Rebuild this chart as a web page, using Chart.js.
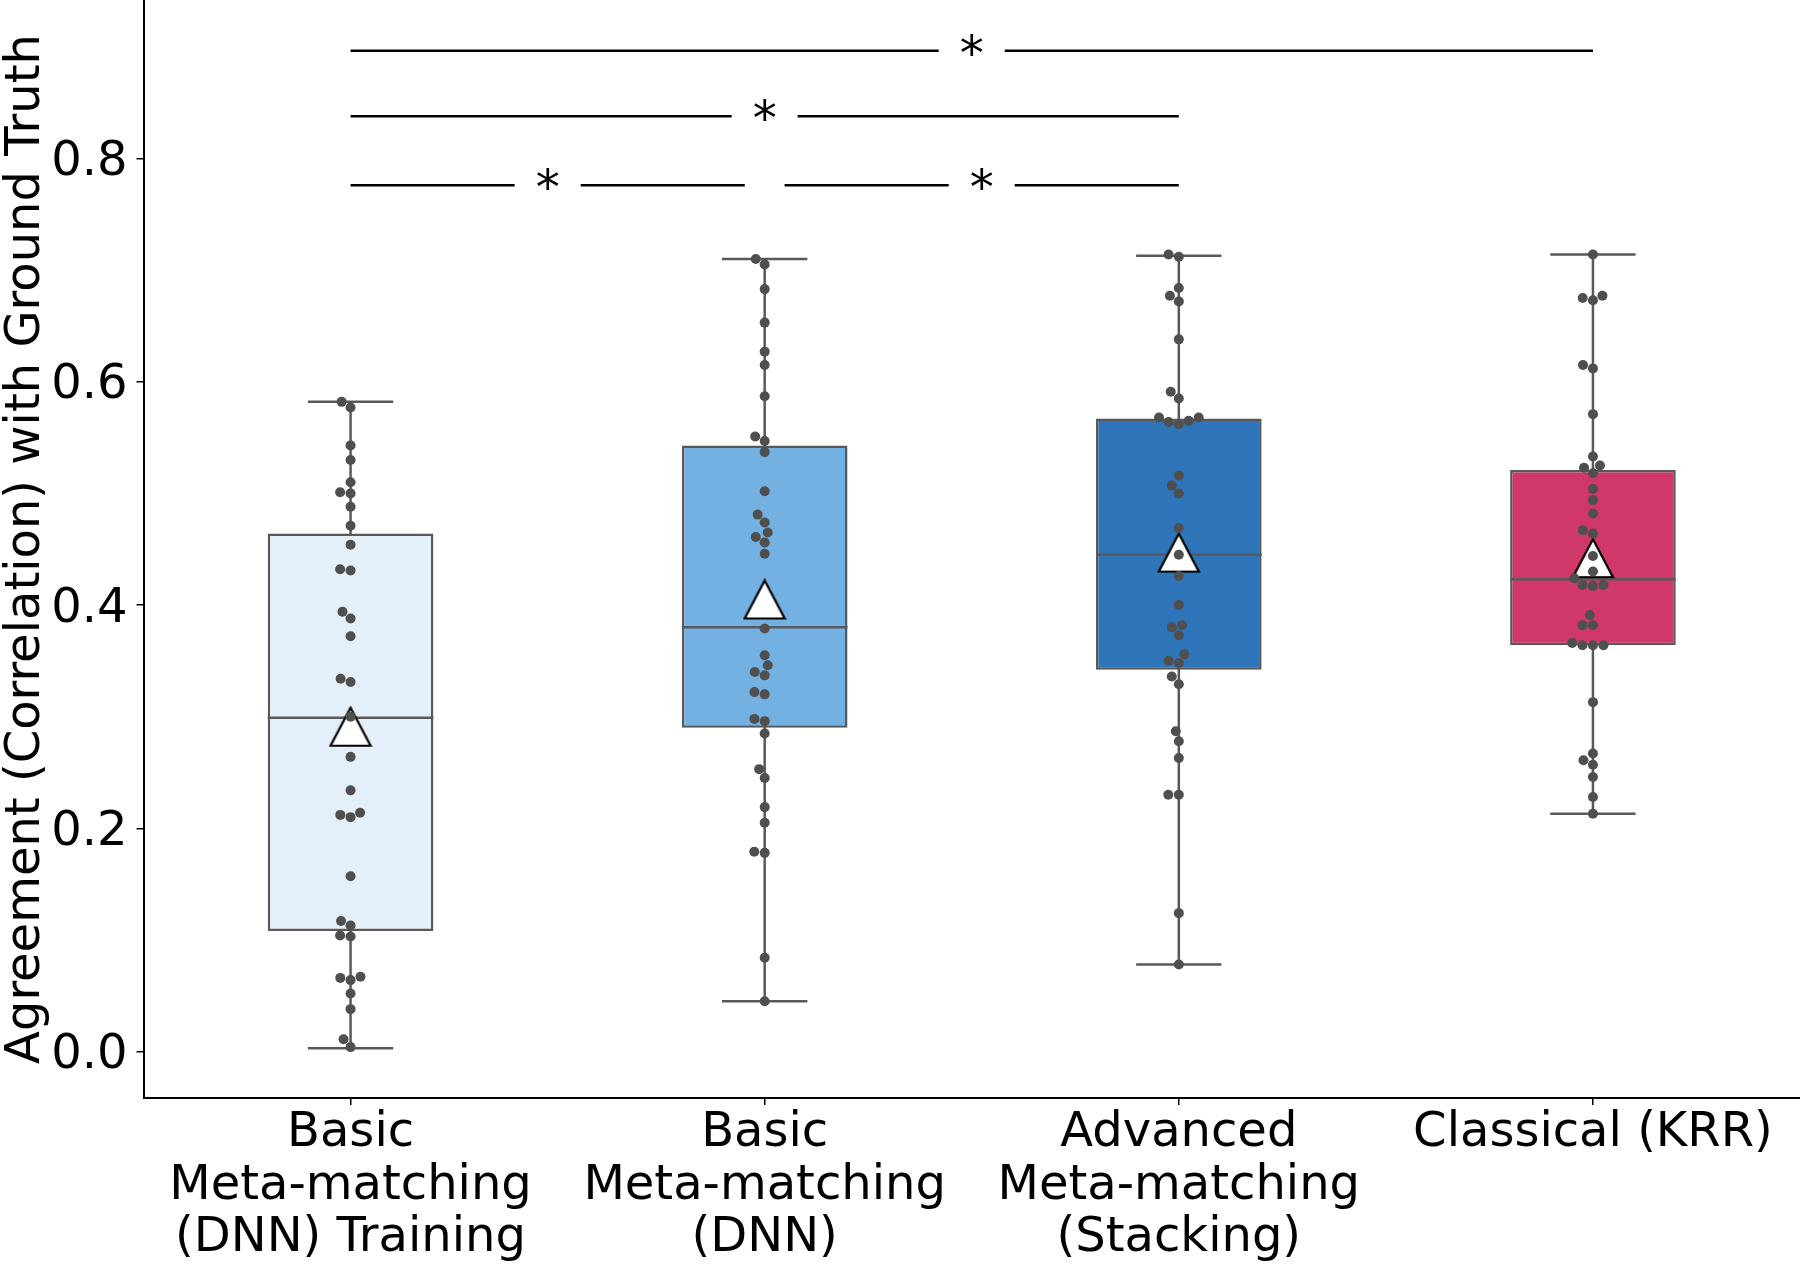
<!DOCTYPE html>
<html>
<head>
<meta charset="utf-8">
<title>Agreement with Ground Truth</title>
<script src="https://cdn.jsdelivr.net/npm/chart.js@4.4.1/dist/chart.umd.min.js"></script>
<style>
  html, body { margin: 0; padding: 0; background: #ffffff; }
  #wrap { width: 1800px; height: 1264px; }
</style>
</head>
<body>
<div id="wrap"><canvas id="agreementChart" width="1800" height="1264"></canvas></div>
<script>
// Categories (multi-line tick labels)
const groupLabels = [
    ['Basic', 'Meta-matching', '(DNN) Training'],
    ['Basic', 'Meta-matching', '(DNN)'],
    ['Advanced', 'Meta-matching', '(Stacking)'],
    ['Classical (KRR)']
];

// Individual phenotype correlations
const basicTrainingScores = [
    0.582, 0.577, 0.543, 0.530, 0.510, 0.501, 0.500, 0.488, 0.471, 0.454,
    0.432, 0.431, 0.394, 0.388, 0.372, 0.334, 0.331, 0.300, 0.264, 0.234,
    0.214, 0.212, 0.210, 0.157, 0.117, 0.113, 0.104, 0.103, 0.067, 0.066,
    0.064, 0.052, 0.038, 0.011, 0.004
];
const basicDnnScores = [
    0.710, 0.705, 0.683, 0.653, 0.627, 0.615, 0.587, 0.551, 0.547, 0.537,
    0.502, 0.481, 0.474, 0.465, 0.461, 0.456, 0.446, 0.379, 0.355, 0.346,
    0.340, 0.337, 0.322, 0.320, 0.298, 0.296, 0.285, 0.253, 0.245, 0.219,
    0.205, 0.179, 0.178, 0.084, 0.045
];
const advancedStackingScores = [
    0.714, 0.712, 0.684, 0.677, 0.672, 0.638, 0.591, 0.585, 0.568, 0.568,
    0.565, 0.564, 0.562, 0.516, 0.507, 0.500, 0.469, 0.445, 0.426, 0.400,
    0.382, 0.380, 0.373, 0.356, 0.350, 0.348, 0.336, 0.329, 0.287, 0.278,
    0.263, 0.230, 0.230, 0.124, 0.078
];
const classicalKrrScores = [
    0.714, 0.677, 0.675, 0.673, 0.615, 0.612, 0.571, 0.533, 0.525, 0.523,
    0.518, 0.504, 0.494, 0.482, 0.467, 0.464, 0.444, 0.430, 0.424, 0.418,
    0.418, 0.417, 0.391, 0.382, 0.382, 0.366, 0.364, 0.364, 0.364, 0.313,
    0.267, 0.261, 0.257, 0.246, 0.228, 0.213
];
const groupScores = [basicTrainingScores, basicDnnScores, advancedStackingScores, classicalKrrScores];

// Box statistics as drawn
const whiskerLow  = [0.003, 0.045, 0.078, 0.213];
const boxQ1       = [0.108, 0.290, 0.342, 0.364];
const boxMedian   = [0.299, 0.380, 0.445, 0.423];
const boxQ3       = [0.464, 0.543, 0.567, 0.521];
const whiskerHigh = [0.582, 0.710, 0.713, 0.714];
const meanValues  = [0.291, 0.405, 0.447, 0.442];

const boxColors = ['#e3f0f9', '#74b1e3', '#2e75ba', '#cf3869'];

// Significance brackets
const sigFrom  = [0, 0, 0, 1.048];
const sigTo    = [3, 2, 0.952, 2];
const sigLevel = [0.8965, 0.8378, 0.776, 0.776];
const sigText  = ['*', '*', '*', '*'];

const yTicks = [0, 0.2, 0.4, 0.6, 0.8];

const FONT = 'DejaVu Sans';
const EDGE = '#595959';
const CAP_HALF = 0.1;
const BOX_HALF = 0.2;
const DOT_SIZE = 10.5;

// whisker lines + caps, separated by null gaps
const whiskerPoints = [];
groupLabels.forEach((_, i) => {
    whiskerPoints.push(
        { x: i, y: whiskerLow[i] }, { x: i, y: whiskerHigh[i] }, { x: i, y: null },
        { x: i - CAP_HALF, y: whiskerLow[i] }, { x: i + CAP_HALF, y: whiskerLow[i] }, { x: i, y: null },
        { x: i - CAP_HALF, y: whiskerHigh[i] }, { x: i + CAP_HALF, y: whiskerHigh[i] }, { x: i, y: null }
    );
});

const medianPoints = [];
groupLabels.forEach((_, i) => {
    medianPoints.push({ x: i - BOX_HALF, y: boxMedian[i] }, { x: i + BOX_HALF, y: boxMedian[i] }, { x: i, y: null });
});

// white triangle marker, centred on its bounding box like matplotlib '^'
const meanMarker = document.createElement('canvas');
meanMarker.width = 44;
meanMarker.height = 42;
(() => {
    const c = meanMarker.getContext('2d');
    c.beginPath();
    c.moveTo(22, 2);
    c.lineTo(42, 40);
    c.lineTo(2, 40);
    c.closePath();
    c.fillStyle = '#ffffff';
    c.fill();
    c.lineWidth = 2.2;
    c.strokeStyle = '#000000';
    c.stroke();
})();

const sigPlugin = {
    id: 'sigBrackets',
    afterDatasetsDraw(chart) {
        const { ctx } = chart;
        const xs = chart.scales.x, ys = chart.scales.y;
        ctx.save();
        ctx.strokeStyle = '#000';
        ctx.fillStyle = '#000';
        ctx.lineWidth = 2.5;
        ctx.font = `48px "${FONT}"`;
        ctx.textAlign = 'center';
        ctx.textBaseline = 'alphabetic';
        sigFrom.forEach((from, k) => {
            const x1 = xs.getPixelForValue(from);
            const x2 = xs.getPixelForValue(sigTo[k]);
            const py = ys.getPixelForValue(sigLevel[k]);
            const mid = (x1 + x2) / 2;
            ctx.beginPath();
            ctx.moveTo(x1, py); ctx.lineTo(mid - 33, py);
            ctx.moveTo(mid + 33, py); ctx.lineTo(x2, py);
            ctx.stroke();
            ctx.fillText(sigText[k], mid, py + 19);
        });
        ctx.restore();
    }
};

function swarmOffsets(values, yScale, d) {
    const order = values.map((v, i) => i).sort((a, b) => values[a] - values[b]);
    const placed = [];
    const offsets = new Array(values.length).fill(0);
    order.forEach(i => {
        const py = yScale.getPixelForValue(values[i]);
        const near = placed.filter(p => Math.abs(p.py - py) < d);
        const cands = [0];
        near.forEach(p => {
            const dx = Math.sqrt(Math.max(d * d - (p.py - py) ** 2, 0));
            cands.push(p.px - dx, p.px + dx);
        });
        cands.sort((a, b) => (Math.abs(a) - Math.abs(b)) || (a - b));
        const ok = cands.find(c => near.every(p => Math.hypot(p.px - c, p.py - py) >= d - 0.01));
        const px = ok === undefined ? 0 : ok;
        placed.push({ px, py });
        offsets[i] = px;
    });
    return offsets;
}

const axisFont = { family: FONT, size: 48, lineHeight: 1.1 };

const chart = new Chart(document.getElementById('agreementChart'), {
    type: 'scatter',
    data: {
        datasets: [
            {
                type: 'scatter',
                label: 'Phenotypes',
                data: groupScores.flatMap((vals, g) => vals.map(v => ({ x: g, y: v }))),
                pointRadius: 5,
                pointBackgroundColor: '#4f4f4f',
                pointBorderWidth: 0,
                order: 0
            },
            {
                type: 'scatter',
                label: 'Mean',
                data: meanValues.map((v, i) => ({ x: i, y: v })),
                pointStyle: meanMarker,
                pointRadius: 20,
                order: 1
            },
            {
                type: 'line',
                label: 'Median',
                data: medianPoints,
                borderColor: EDGE,
                borderWidth: 2.5,
                pointRadius: 0,
                spanGaps: false,
                fill: false,
                order: 2
            },
            {
                type: 'bar',
                label: 'IQR',
                data: groupLabels.map((_, i) => ({ x: i, y: [boxQ1[i], boxQ3[i]] })),
                backgroundColor: boxColors,
                borderColor: EDGE,
                borderWidth: 2.5,
                borderSkipped: false,
                categoryPercentage: 1,
                barPercentage: 0.4,
                order: 3
            },
            {
                type: 'line',
                label: 'Whiskers',
                data: whiskerPoints,
                borderColor: EDGE,
                borderWidth: 2.5,
                borderCapStyle: 'square',
                pointRadius: 0,
                spanGaps: false,
                fill: false,
                order: 4
            }
        ]
    },
    options: {
        responsive: false,
        devicePixelRatio: 1,
        animation: false,
        events: [],
        layout: { padding: 0, autoPadding: false },
        plugins: {
            legend: { display: false },
            tooltip: { enabled: false }
        },
        scales: {
            x: {
                type: 'linear',
                min: -0.5,
                max: 3.5,
                offset: false,
                afterBuildTicks: s => { s.ticks = groupLabels.map((_, i) => ({ value: i })); },
                afterFit: s => { s.height = 166; s.paddingLeft = 0; s.paddingRight = 0; },
                ticks: {
                    callback: v => groupLabels[v],
                    color: '#000',
                    font: axisFont,
                    padding: 2,
                    maxRotation: 0,
                    autoSkip: false
                },
                grid: { display: true, offset: false, drawOnChartArea: false, drawTicks: true, tickLength: 7, color: '#000', lineWidth: 1.5 },
                border: { display: true, color: '#000', width: 2 }
            },
            y: {
                type: 'linear',
                min: -0.0416,
                max: 0.942,
                afterBuildTicks: s => { s.ticks = yTicks.map(v => ({ value: v })); },
                afterFit: s => { s.width = 143.5; s.paddingTop = 0; s.paddingBottom = 0; },
                ticks: {
                    callback: v => v.toFixed(1),
                    color: '#000',
                    font: axisFont,
                    padding: 9,
                    labelOffset: 4
                },
                grid: { display: true, drawOnChartArea: false, drawTicks: true, tickLength: 7, color: '#000', lineWidth: 1.5 },
                border: { display: true, color: '#000', width: 2 },
                title: {
                    display: true,
                    text: 'Agreement (Correlation) with Ground Truth',
                    color: '#000',
                    font: axisFont,
                    padding: 0
                }
            }
        }
    },
    plugins: [sigPlugin]
});

// second pass: spread the dots like a seaborn swarm
const xs = chart.scales.x, ys = chart.scales.y;
const pxPerUnit = xs.getPixelForValue(1) - xs.getPixelForValue(0);
chart.data.datasets[0].data = groupScores.flatMap((vals, g) => {
    const offs = swarmOffsets(vals, ys, DOT_SIZE);
    return vals.map((v, k) => ({ x: g + offs[k] / pxPerUnit, y: v }));
});
chart.update('none');
</script>
</body>
</html>
